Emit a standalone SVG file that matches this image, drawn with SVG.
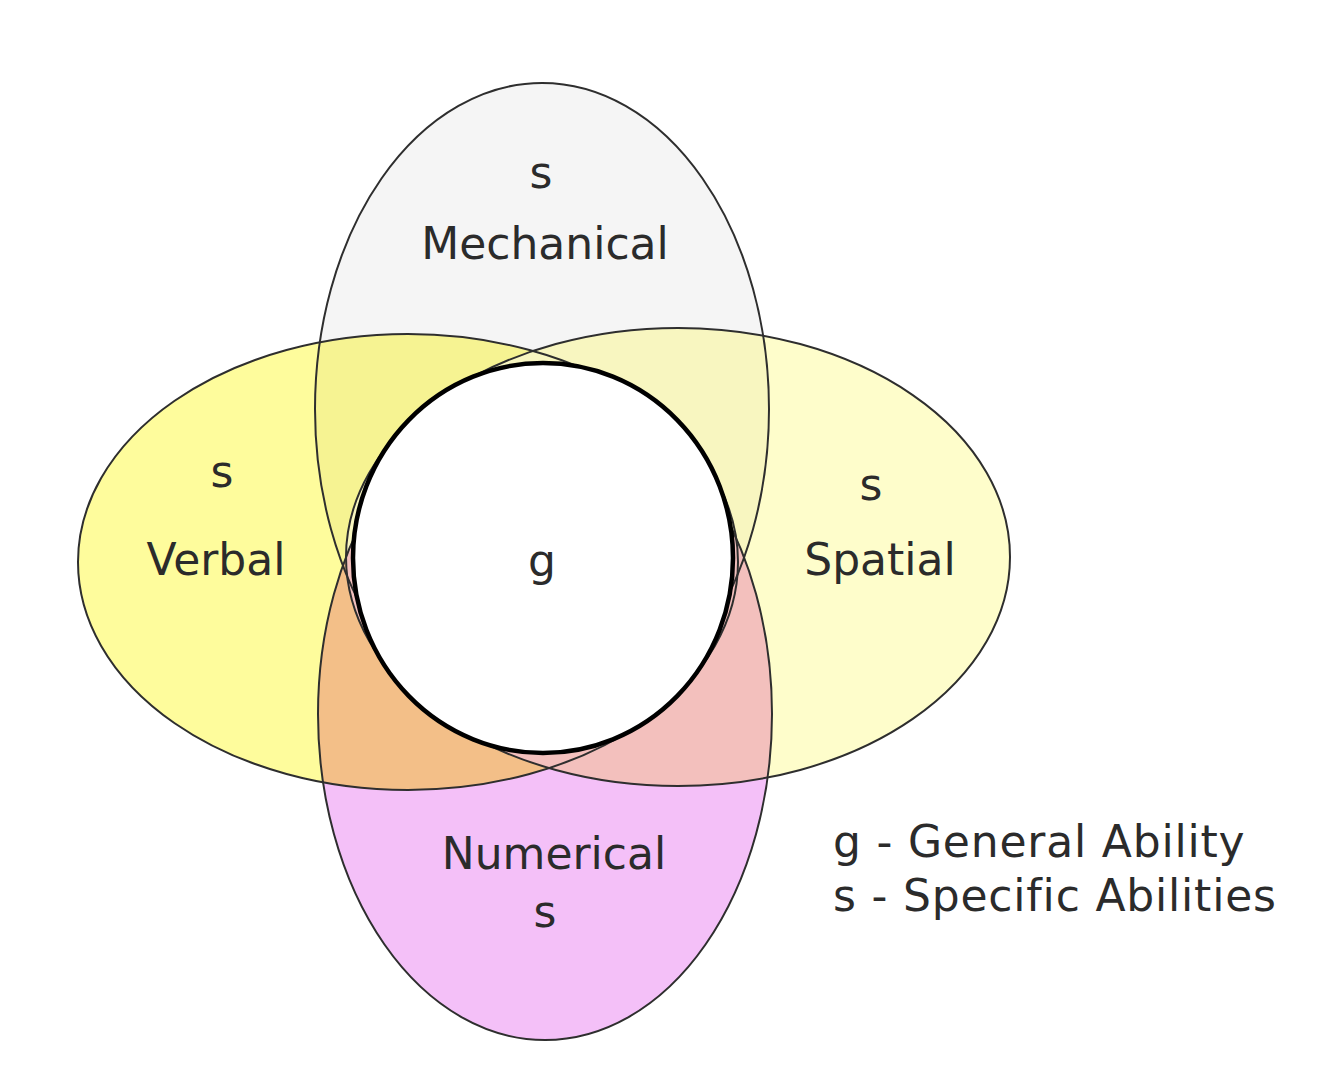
<svg xmlns="http://www.w3.org/2000/svg" xmlns:xlink="http://www.w3.org/1999/xlink" width="1328" height="1072" viewBox="0 0 1328 1072">
  <style>
    .lbl { font-family: "DejaVu Sans", "Liberation Sans", sans-serif; font-size: 44px; fill: #2b2b2b; text-anchor: middle; }
    .leg { font-family: "DejaVu Sans", "Liberation Sans", sans-serif; font-size: 44px; fill: #2b2b2b; letter-spacing: 0.8px; }
    .edge { fill: none; stroke: #2e2e2e; stroke-width: 2; }
  </style>
  <defs>
    <ellipse id="eM" cx="542" cy="409" rx="227" ry="326"/>
    <ellipse id="eN" cx="545" cy="714" rx="227" ry="326"/>
    <ellipse id="eV" cx="408" cy="562" rx="330" ry="228"/>
    <ellipse id="eS" cx="678" cy="557" rx="332" ry="229"/>
    <clipPath id="cM"><use xlink:href="#eM"/></clipPath>
    <clipPath id="cN"><use xlink:href="#eN"/></clipPath>
    <clipPath id="cV"><use xlink:href="#eV"/></clipPath>
    <clipPath id="cS"><use xlink:href="#eS"/></clipPath>
  </defs>
  <rect width="1328" height="1072" fill="#ffffff"/>

  <g id="fills">
    <use xlink:href="#eV" fill="#fefc9c"/>
    <use xlink:href="#eS" fill="#fefdcb"/>
    <use xlink:href="#eM" fill="#f5f5f5"/>
    <use xlink:href="#eN" fill="#f4c0f8"/>
    <use xlink:href="#eV" fill="#f6f392" clip-path="url(#cM)"/>
    <use xlink:href="#eS" fill="#f8f6c0" clip-path="url(#cM)"/>
    <use xlink:href="#eV" fill="#f3bf88" clip-path="url(#cN)"/>
    <use xlink:href="#eS" fill="#f3c0bd" clip-path="url(#cN)"/>
  </g>

  <g id="node-mechanical">
    <use xlink:href="#eM" class="edge"/>
    <text class="lbl" x="541" y="188">s</text>
    <text class="lbl" x="545" y="259">Mechanical</text>
  </g>
  <g id="node-numerical">
    <use xlink:href="#eN" class="edge"/>
    <text class="lbl" x="554" y="869">Numerical</text>
    <text class="lbl" x="545" y="927">s</text>
  </g>
  <g id="node-verbal">
    <use xlink:href="#eV" class="edge"/>
    <text class="lbl" x="222" y="487">s</text>
    <text class="lbl" x="216" y="575">Verbal</text>
  </g>
  <g id="node-spatial">
    <use xlink:href="#eS" class="edge"/>
    <text class="lbl" x="871" y="500">s</text>
    <text class="lbl" x="880" y="575">Spatial</text>
  </g>
  <g id="node-general">
    <ellipse cx="543" cy="558" rx="190" ry="195" fill="#ffffff" stroke="#000000" stroke-width="4.5"/>
    <text class="lbl" x="542" y="576">g</text>
  </g>

  <g id="legend">
    <text class="leg" x="833" y="857">g - General Ability</text>
    <text class="leg" x="833" y="911">s - Specific Abilities</text>
  </g>

  <g id="connectors"/>
</svg>
